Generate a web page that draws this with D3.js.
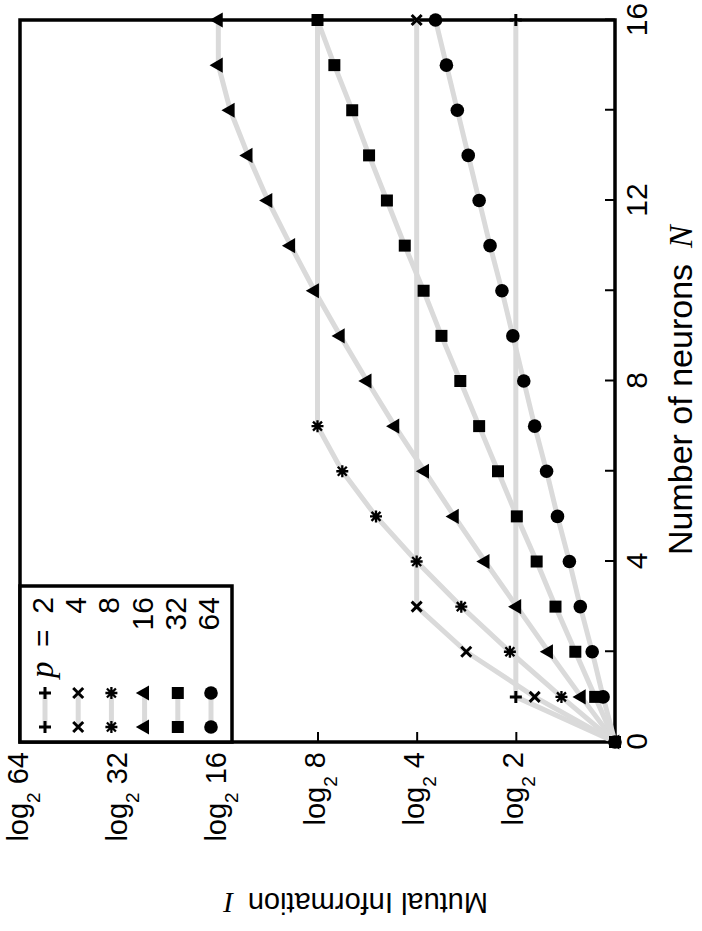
<!DOCTYPE html>
<html>
<head>
<meta charset="utf-8">
<script src="https://cdn.jsdelivr.net/npm/d3@7"></script>
<style>
  body { margin: 0; background: #fff; }
</style>
</head>
<body>
<svg id="chart"></svg>
<script>
// values (I in bits, N = number of neurons)
const pLabels = ["2", "4", "8", "16", "32", "64"];
const shapes = ["plus", "cross", "star", "triangle", "square", "circle"];

const nP2 = [0, 1, 16];
const iP2 = [0, 1.00, 1.00];
const nP4 = [0, 1, 2, 3, 16];
const iP4 = [0, 0.81, 1.50, 2.00, 2.00];
const nP8 = [0, 1, 2, 3, 4, 5, 6, 7, 16];
const iP8 = [0, 0.54, 1.06, 1.55, 2.00, 2.41, 2.75, 3.00, 3.00];
const nAll = [0, 1, 2, 3, 4, 5, 6, 7, 8, 9, 10, 11, 12, 13, 14, 15, 16];
const iP16 = [0, 0.34, 0.67, 0.99, 1.31, 1.62, 1.92, 2.22, 2.50, 2.77, 3.03, 3.27, 3.50, 3.70, 3.88, 4.00, 4.00];
const iP32 = [0, 0.20, 0.40, 0.60, 0.79, 0.99, 1.18, 1.37, 1.56, 1.75, 1.93, 2.12, 2.30, 2.48, 2.65, 2.83, 3.00];
const iP64 = [0, 0.12, 0.23, 0.35, 0.46, 0.58, 0.69, 0.81, 0.92, 1.03, 1.14, 1.26, 1.37, 1.48, 1.59, 1.70, 1.81];

const nTicks = [0, 2, 4, 6, 8, 10, 12, 14, 16];
const nTickLabels = [0, 4, 8, 12, 16];
const iTicks = [1, 2, 3, 4, 5, 6];
const iTickLabels = ["2", "4", "8", "16", "32", "64"];

const series = [
  { p: pLabels[0], shape: shapes[0], n: nP2, v: iP2 },
  { p: pLabels[1], shape: shapes[1], n: nP4, v: iP4 },
  { p: pLabels[2], shape: shapes[2], n: nP8, v: iP8 },
  { p: pLabels[3], shape: shapes[3], n: nAll, v: iP16 },
  { p: pLabels[4], shape: shapes[4], n: nAll, v: iP32 },
  { p: pLabels[5], shape: shapes[5], n: nAll, v: iP64 }
];

const width = 702;
const height = 931;
const sans = "'Liberation Sans', Arial, Helvetica, sans-serif";
const serif = "'Liberation Serif', 'Times New Roman', serif";
const grey = "#dadada";

const svg = d3.select("#chart")
  .attr("width", width)
  .attr("height", height);

svg.append("rect").attr("width", width).attr("height", height).attr("fill", "#fff");

// the whole figure is laid out upright, then turned a quarter turn counter-clockwise
const g = svg.append("g")
  .attr("transform", `translate(0,${height}) rotate(-90)`);

const plot = { left: 189, right: 911, top: 20, bottom: 615 };

const x = d3.scaleLinear().domain([0, 16]).range([plot.left, plot.right]);
const y = d3.scaleLinear().domain([0, 6]).range([plot.bottom, plot.top]);

// frame
g.append("rect")
  .attr("x", plot.left)
  .attr("y", plot.top)
  .attr("width", plot.right - plot.left)
  .attr("height", plot.bottom - plot.top)
  .attr("fill", "none")
  .attr("stroke", "#000")
  .attr("stroke-width", 3.5);

// axes
const xAxis = d3.axisBottom(x)
  .tickValues(nTicks)
  .tickSizeInner(-10)
  .tickSizeOuter(0)
  .tickPadding(0)
  .tickFormat(d => nTickLabels.includes(d) ? d : "");

const gx = g.append("g")
  .attr("transform", `translate(0,${plot.bottom})`)
  .call(xAxis)
  .attr("font-size", 30)
  .attr("font-family", sans);
gx.select(".domain").remove();
gx.selectAll("line").attr("stroke", "#000").attr("stroke-width", 2);
gx.selectAll("text").attr("y", 32).attr("dy", null).attr("fill", "#000");

const yAxis = d3.axisLeft(y)
  .tickValues(iTicks)
  .tickSizeInner(-10)
  .tickSizeOuter(0)
  .tickPadding(10)
  .tickFormat((d, i) => iTickLabels[i]);

const gy = g.append("g")
  .attr("transform", `translate(${plot.left},0)`)
  .call(yAxis)
  .attr("font-size", 29)
  .attr("font-family", sans);
gy.select(".domain").remove();
gy.selectAll("line").attr("stroke", "#000").attr("stroke-width", 2);
gy.selectAll("text").each(function() {
  const t = d3.select(this);
  const lab = t.text();
  t.text(null).attr("dy", 7).attr("fill", "#000");
  t.append("tspan").text("log");
  t.append("tspan").attr("font-size", 19).attr("dy", 12).text("2");
  t.append("tspan").attr("dy", -12).text("\u00a0" + lab);
});

// axis titles
g.append("text")
  .attr("x", 376)
  .attr("y", 692)
  .attr("font-family", sans)
  .attr("font-size", 34)
  .text("Number of neurons")
  .append("tspan")
  .attr("dx", 16)
  .attr("font-family", serif)
  .attr("font-style", "italic")
  .text("N");

g.append("text")
  .attr("transform", "translate(38,488) rotate(-90)")
  .attr("font-family", sans)
  .attr("font-size", 29)
  .text("Mutual Information")
  .append("tspan")
  .attr("dx", 14)
  .attr("font-family", serif)
  .attr("font-style", "italic")
  .text("I");

// markers
function marker(sel, shape) {
  if (shape === "plus") {
    sel.append("path").attr("d", "M-6,0H6M0,-6V6")
      .attr("stroke", "#000").attr("stroke-width", 3).attr("fill", "none");
  } else if (shape === "cross") {
    sel.append("path").attr("d", "M-5,-5L5,5M-5,5L5,-5")
      .attr("stroke", "#000").attr("stroke-width", 3).attr("fill", "none");
  } else if (shape === "star") {
    sel.append("path").attr("d", "M-6,0H6M0,-6V6M-4.5,-4.5L4.5,4.5M-4.5,4.5L4.5,-4.5")
      .attr("stroke", "#000").attr("stroke-width", 2.3).attr("fill", "none");
  } else {
    const type = shape === "triangle" ? d3.symbolTriangle
      : shape === "square" ? d3.symbolSquare : d3.symbolCircle;
    const size = shape === "triangle" ? 100 : shape === "square" ? 144 : 145;
    sel.append("path").attr("d", d3.symbol().type(type).size(size)()).attr("fill", "#000");
  }
}

const line = d3.line()
  .x(d => x(d[0]))
  .y(d => y(d[1]));

series.forEach(s => {
  s.points = s.n.map((n, i) => [n, s.v[i]]);
});

g.append("g")
  .selectAll("path")
  .data(series)
  .enter()
  .append("path")
  .attr("d", s => line(s.points))
  .attr("fill", "none")
  .attr("stroke", grey)
  .attr("stroke-width", 5)
  .attr("stroke-linejoin", "round");

series.forEach(s => {
  g.append("g")
    .selectAll("g")
    .data(s.points)
    .enter()
    .append("g")
    .attr("transform", d => `translate(${x(d[0])},${y(d[1])})`)
    .each(function() { marker(d3.select(this), s.shape); });
});

// legend
const legend = g.append("g");
legend.append("rect")
  .attr("x", plot.left)
  .attr("y", plot.top)
  .attr("width", 156)
  .attr("height", 212)
  .attr("fill", "#fff")
  .attr("stroke", "#000")
  .attr("stroke-width", 3.5);

const rowY = d3.scaleLinear().domain([0, 5]).range([45, 211]);

series.forEach((s, i) => {
  const ry = rowY(i);
  legend.append("line")
    .attr("x1", 204).attr("x2", 238)
    .attr("y1", ry).attr("y2", ry)
    .attr("stroke", grey).attr("stroke-width", 5);
  [204, 238].forEach(px => {
    const m = legend.append("g").attr("transform", `translate(${px},${ry})`);
    marker(m, s.shape);
  });
  legend.append("text")
    .attr("x", 334)
    .attr("y", ry + 8)
    .attr("text-anchor", "end")
    .attr("font-family", sans)
    .attr("font-size", 30)
    .text(s.p);
});

legend.append("text")
  .attr("x", 253)
  .attr("y", rowY(0) + 8)
  .attr("font-family", serif)
  .attr("font-style", "italic")
  .attr("font-size", 33)
  .text("p");
legend.append("text")
  .attr("x", 284)
  .attr("y", rowY(0) + 8)
  .attr("font-family", sans)
  .attr("font-size", 30)
  .text("=");
</script>
</body>
</html>
